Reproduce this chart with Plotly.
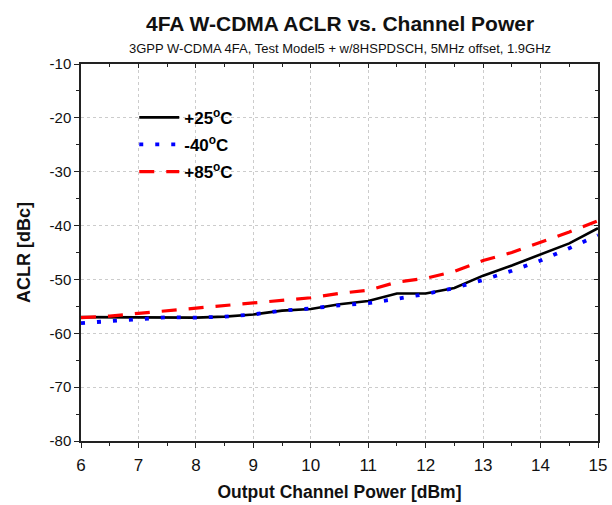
import plotly.graph_objects as go

x_vals = [6, 6.5, 7, 7.5, 8, 8.5, 9, 9.5, 10, 10.5, 11, 11.5, 12, 12.5, 13, 13.5, 14, 14.5, 15]
aclr_p25 = [-57.0, -57.0, -57.0, -57.0, -57.1, -56.9, -56.5, -55.8, -55.5, -54.6, -54.0, -52.6, -52.6, -51.6, -49.3, -47.4, -45.4, -43.3, -40.5]
aclr_m40 = [-58.1, -57.8, -57.4, -57.0, -57.1, -56.9, -56.5, -55.8, -55.4, -54.8, -54.4, -53.6, -52.7, -51.6, -50.1, -48.4, -46.5, -44.2, -41.8]
aclr_p85 = [-57.1, -56.8, -56.3, -55.8, -55.3, -54.9, -54.4, -53.8, -53.4, -52.6, -52.0, -50.5, -49.8, -48.5, -46.5, -45.0, -43.1, -41.2, -39.1]

series_names = ["+25<sup>o</sup>C", "-40<sup>o</sup>C", "+85<sup>o</sup>C"]
x_ticks = [6, 7, 8, 9, 10, 11, 12, 13, 14, 15]
y_ticks = [-80, -70, -60, -50, -40, -30, -20, -10]
y_ticktext = ["-80", "-70", "-60", "-50", "-40", "-30", "-20", "-10"]

FONT = "Liberation Sans, Arial, sans-serif"

fig = go.Figure()
fig.add_trace(go.Scatter(x=x_vals, y=aclr_p25, mode="lines", name="<b>" + series_names[0] + "</b>",
                         legendgroup="a", line=dict(color="black", width=2.6)))
fig.add_trace(go.Scatter(x=x_vals, y=aclr_m40, mode="lines", name="<b>" + series_names[1] + "</b>",
                         legendgroup="b", line=dict(color="#0000ff", width=3.8, dash="4px,12px")))
fig.add_trace(go.Scatter(x=x_vals, y=aclr_p85, mode="lines", name="<b>" + series_names[2] + "</b>",
                         legendgroup="c", line=dict(color="#ff0000", width=3.2, dash="15px,12px")))
# invisible trace to activate mirrored axes (top/right with inside ticks)
fig.add_trace(go.Scatter(x=[x_vals[0]], y=[aclr_p25[0]], xaxis="x2", yaxis="y2",
                         mode="markers", marker=dict(opacity=0), showlegend=False, hoverinfo="skip"))

axis_common = dict(showline=True, linecolor="#222", linewidth=1.5,
                   ticks="outside", ticklen=5, tickwidth=1.3, tickcolor="#222",
                   showgrid=True, gridcolor="#cccccc", griddash="dot", gridwidth=1,
                   zeroline=False, automargin=False)

fig.update_layout(
    width=612, height=505,
    margin=dict(l=81, r=14, t=64, b=64),
    paper_bgcolor="white", plot_bgcolor="white",
    font=dict(family=FONT, color="#111"),
    xaxis=dict(axis_common, range=[6, 15], tickvals=x_ticks,
               tickfont=dict(family=FONT, size=17, color="#111"), ticklabelstandoff=3,
               minor=dict(ticks="outside", ticklen=3, tickwidth=1.2, tickcolor="#222", dtick=0.5, showgrid=False),
               title=dict(text="<b>Output Channel Power [dBm]</b>", font=dict(family=FONT, size=17.5), standoff=12)),
    yaxis=dict(axis_common, range=[-80, -10], tickvals=y_ticks, ticktext=y_ticktext,
               tickfont=dict(family=FONT, size=15, color="#111"),
               minor=dict(ticks="outside", ticklen=3, tickwidth=1.2, tickcolor="#222", dtick=5, showgrid=False),
               title=dict(text="<b>ACLR [dBc]</b>", font=dict(family=FONT, size=18), standoff=14)),
    xaxis2=dict(overlaying="x", side="top", range=[6, 15], showline=True, linecolor="#222", linewidth=1.5,
                ticks="inside", ticklen=4, tickvals=x_ticks, tickcolor="#222", showticklabels=False,
                minor=dict(ticks="inside", ticklen=3, dtick=0.5, tickcolor="#222"),
                showgrid=False, zeroline=False, automargin=False),
    yaxis2=dict(overlaying="y", side="right", range=[-80, -10], showline=True, linecolor="#222", linewidth=1.5,
                ticks="inside", ticklen=4, tickvals=y_ticks, tickcolor="#222", showticklabels=False,
                minor=dict(ticks="inside", ticklen=3, dtick=5, tickcolor="#222"),
                showgrid=False, zeroline=False, automargin=False),
    legend=dict(x=0.103, y=0.905, xanchor="left", yanchor="top", bgcolor="rgba(0,0,0,0)",
                font=dict(family=FONT, size=17, color="black"), tracegroupgap=2,
                itemwidth=40),
    showlegend=True,
    annotations=[
        dict(text="<b>4FA W-CDMA ACLR vs. Channel Power</b>", x=0.5, y=1.0, xref="paper", yref="paper",
             yanchor="bottom", yshift=27, showarrow=False, font=dict(family=FONT, size=21, color="#111")),
        dict(text="3GPP W-CDMA 4FA, Test Model5 + w/8HSPDSCH, 5MHz offset, 1.9GHz", x=0.5, y=1.0, xref="paper",
             yref="paper", yanchor="bottom", yshift=6, showarrow=False, font=dict(family=FONT, size=13, color="#111")),
    ],
)

fig.write_html("out.html")
